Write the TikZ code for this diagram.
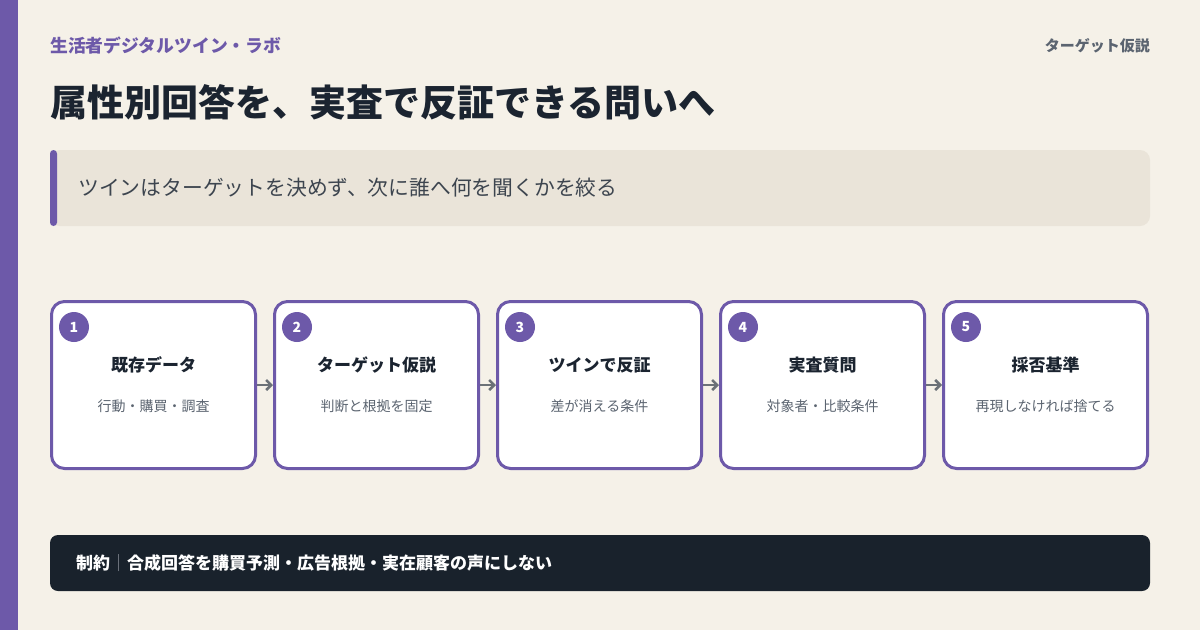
\documentclass[tikz,border=0pt]{standalone}
\usepackage{fontspec}
\setmainfont{Noto Sans CJK JP}
\usetikzlibrary{positioning,arrows.meta}
\definecolor{paper}{HTML}{F5F1E8}
\definecolor{calloutfill}{HTML}{EAE4D9}
\definecolor{labpurple}{HTML}{6D59A9}
\definecolor{inkdark}{HTML}{1B2430}
\definecolor{inkgray}{HTML}{5B6470}
\definecolor{arrowgray}{HTML}{6B7177}
\definecolor{barnavy}{HTML}{19222C}
\definecolor{sepgray}{HTML}{8A9099}

\begin{document}
\begin{tikzpicture}[x=1pt,y=-1pt,
				stepbox/.style={rectangle, draw=labpurple, line width=3pt, fill=white, rounded corners=13pt, minimum width=204pt, minimum height=167pt},
				numnode/.style={circle, fill=labpurple, text=white, minimum size=30pt, inner sep=0pt, font=\bfseries\fontsize{14}{16}\selectfont},
				titlenode/.style={inner sep=0pt, text=inkdark, font=\bfseries\fontsize{17}{20}\selectfont},
				subnode/.style={inner sep=0pt, text=inkgray, font=\fontsize{14}{17}\selectfont},
				flowarrow/.style={draw=arrowgray, line width=2.5pt, -{Straight Barb[length=5pt,width=10pt]}},
				]
				\useasboundingbox (0,0) rectangle (1200,630);
				%Background
				\fill[paper] (0,0) rectangle (1200,630);
				\fill[labpurple] (0,0) rectangle (18,630);
				
				%Header
				\node[anchor=west, inner sep=0pt, text=labpurple, font=\bfseries\fontsize{17.8}{21}\selectfont] (lab) at (50,46) {生活者デジタルツイン・ラボ};
				\node[anchor=east, inner sep=0pt, text=inkgray, font=\bfseries\fontsize{15}{18}\selectfont] (tag) at (1150,46) {ターゲット仮説};
				\node[anchor=west, inner sep=0pt, text=inkdark, font=\bfseries\fontsize{37}{44}\selectfont] (title) at (50,102) {属性別回答を、実査で反証できる問いへ};
				
				%Callout
				\node[rectangle, fill=calloutfill, rounded corners=10pt, minimum width=1100pt, minimum height=76pt, inner sep=0pt] (callout) at (600,188) {};
				\fill[labpurple, rounded corners=3.5pt] (50,150) rectangle (57,226);
				\node[anchor=west, inner sep=0pt, text=inkdark!85!white, font=\fontsize{20.8}{24}\selectfont] (lead) at (78,188) {ツインはターゲットを決めず、次に誰へ何を聞くかを絞る};
				
				%Steps
				\node[stepbox]      (b1) 	at 	(153.5,385)     {};
				\node[stepbox]      (b2) 	at 	(376.5,385)     {};
				\node[stepbox]      (b3) 	at 	(599.5,385)     {};
				\node[stepbox]      (b4) 	at 	(822.5,385)     {};
				\node[stepbox]      (b5) 	at 	(1045.5,385)    {};
				
				\node[numnode]      (k1) 	at 	(74,327)        {1};
				\node[numnode]      (k2) 	at 	(297,327)       {2};
				\node[numnode]      (k3) 	at 	(520,327)       {3};
				\node[numnode]      (k4) 	at 	(743,327)       {4};
				\node[numnode]      (k5) 	at 	(966,327)       {5};
				
				\node[titlenode]    (t1) 	at 	(153.5,365)     {既存データ};
				\node[titlenode]    (t2) 	at 	(376.5,365)     {ターゲット仮説};
				\node[titlenode]    (t3) 	at 	(599.5,365)     {ツインで反証};
				\node[titlenode]    (t4) 	at 	(822.5,365)     {実査質問};
				\node[titlenode]    (t5) 	at 	(1045.5,365)    {採否基準};
				
				\node[subnode]      (s1) 	at 	(153.5,406)     {行動・購買・調査};
				\node[subnode]      (s2) 	at 	(376.5,406)     {判断と根拠を固定};
				\node[subnode]      (s3) 	at 	(599.5,406)     {差が消える条件};
				\node[subnode]      (s4) 	at 	(822.5,406)     {対象者・比較条件};
				\node[subnode]      (s5) 	at 	(1045.5,406)    {再現しなければ捨てる};
				
				%Arrows
				\draw[flowarrow] (b1.east) -- (b2.west);
				\draw[flowarrow] (b2.east) -- (b3.west);
				\draw[flowarrow] (b3.east) -- (b4.west);
				\draw[flowarrow] (b4.east) -- (b5.west);
				
				%Constraint bar
				\node[rectangle, fill=barnavy, rounded corners=8pt, minimum width=1100pt, minimum height=56pt, inner sep=0pt] (bar) at (600,563) {};
				\node[anchor=west, inner sep=0pt, text=white, font=\bfseries\fontsize{17}{20}\selectfont] (rule) at (76,563) {制約{\mdseries\color{sepgray}｜}合成回答を購買予測・広告根拠・実在顧客の声にしない};
			\end{tikzpicture}
\end{document}
